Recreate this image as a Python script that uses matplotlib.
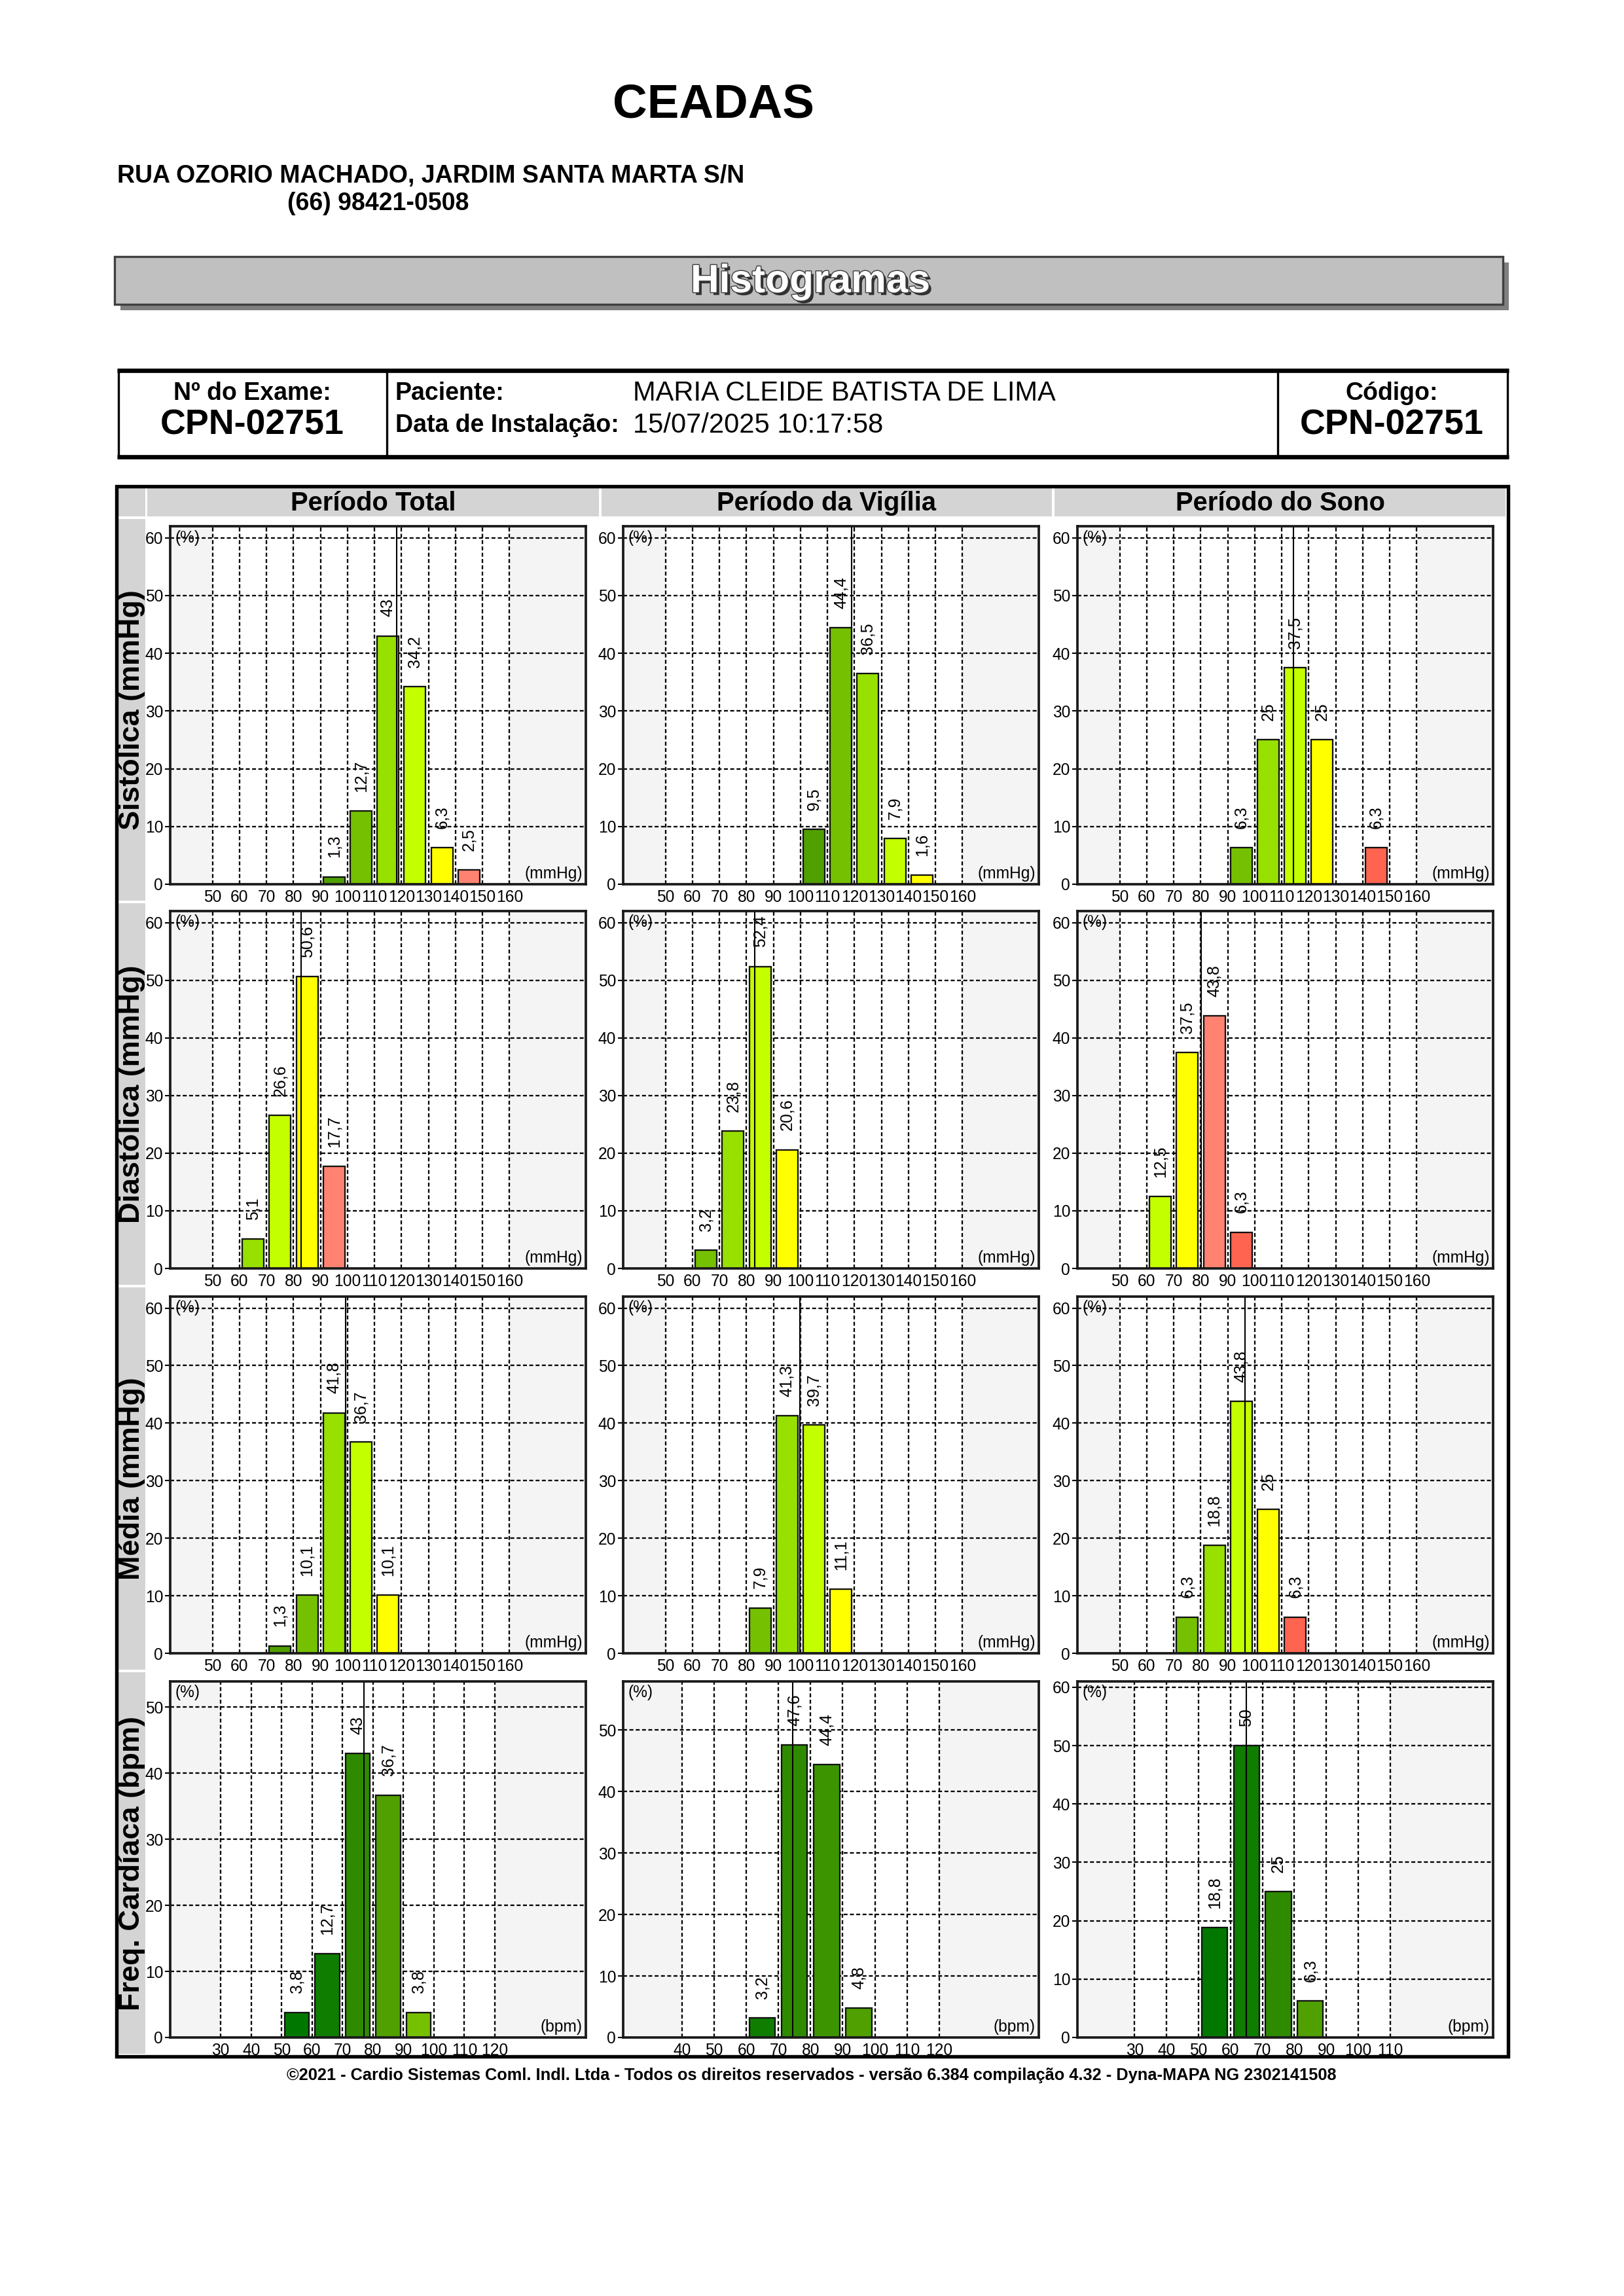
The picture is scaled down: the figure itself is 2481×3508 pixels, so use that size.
import numpy as np
import matplotlib
matplotlib.use('Agg')
import matplotlib.pyplot as plt
import matplotlib.patheffects as pe
from matplotlib.patches import Rectangle

plt.rcParams['font.family'] = ['Liberation Sans', 'DejaVu Sans']

W, H = 2481, 3508

# ---------------- colours ----------------
G0 = '#007800'; G1 = '#0f7d00'; G2 = '#2e8b00'; G3 = '#3c9500'; G4 = '#4fa000'
G5 = '#75c000'; G6 = '#97e000'; G7 = '#c4ff00'; YE = '#ffff00'; SA = '#ff8370'; RE = '#ff6450'

# ---------------- texts ----------------
clinic = "CEADAS"
address = "RUA OZORIO MACHADO, JARDIM SANTA MARTA S/N"
phone = "(66) 98421-0508"
exam_label = "Nº do Exame:"
exam_code = "CPN-02751"
patient_label = "Paciente:"
patient = "MARIA CLEIDE BATISTA DE LIMA"
date_label = "Data de Instalação:"
install_date = "15/07/2025 10:17:58"
code_label = "Código:"
section_title = "Histogramas"
footer = ("©2021 - Cardio Sistemas Coml. Indl. Ltda - Todos os direitos reservados - "
          "versão 6.384 compilação 4.32 - Dyna-MAPA NG 2302141508")
periods = ["Período Total", "Período da Vigília", "Período do Sono"]
measures = ["Sistólica (mmHg)", "Diastólica (mmHg)", "Média (mmHg)", "Freq. Cardíaca (bpm)"]
units = ["(mmHg)", "(mmHg)", "(mmHg)", "(bpm)"]

# ---------------- data ----------------
bp_ticks = [50, 60, 70, 80, 90, 100, 110, 120, 130, 140, 150, 160]
hr_ticks_total = [30, 40, 50, 60, 70, 80, 90, 100, 110, 120]
hr_ticks_vig = [40, 50, 60, 70, 80, 90, 100, 110, 120]
hr_ticks_sono = [30, 40, 50, 60, 70, 80, 90, 100, 110]

sis_total_bins = [90, 100, 110, 120, 130, 140]
sis_total_pct = [1.3, 12.7, 43, 34.2, 6.3, 2.5]
sis_total_col = [G4, G5, G6, G7, YE, SA]
sis_total_mark = 118.1

sis_vig_bins = [100, 110, 120, 130, 140]
sis_vig_pct = [9.5, 44.4, 36.5, 7.9, 1.6]
sis_vig_col = [G4, G5, G6, G7, YE]
sis_vig_mark = 118.9

sis_sono_bins = [90, 100, 110, 120, 140]
sis_sono_pct = [6.3, 25, 37.5, 25, 6.3]
sis_sono_col = [G5, G6, G7, YE, RE]
sis_sono_mark = 114.3

dia_total_bins = [60, 70, 80, 90]
dia_total_pct = [5.1, 26.6, 50.6, 17.7]
dia_total_col = [G6, G7, YE, SA]
dia_total_mark = 82.9

dia_vig_bins = [60, 70, 80, 90]
dia_vig_pct = [3.2, 23.8, 52.4, 20.6]
dia_vig_col = [G5, G6, G7, YE]
dia_vig_mark = 83.0

dia_sono_bins = [60, 70, 80, 90]
dia_sono_pct = [12.5, 37.5, 43.8, 6.3]
dia_sono_col = [G7, YE, SA, RE]
dia_sono_mark = 80.1

med_total_bins = [70, 80, 90, 100, 110]
med_total_pct = [1.3, 10.1, 41.8, 36.7, 10.1]
med_total_col = [G4, G5, G6, G7, YE]
med_total_mark = 99.2

med_vig_bins = [80, 90, 100, 110]
med_vig_pct = [7.9, 41.3, 39.7, 11.1]
med_vig_col = [G5, G6, G7, YE]
med_vig_mark = 99.9

med_sono_bins = [70, 80, 90, 100, 110]
med_sono_pct = [6.3, 18.8, 43.8, 25, 6.3]
med_sono_col = [G5, G6, G7, YE, RE]
med_sono_mark = 96.3

hr_total_bins = [50, 60, 70, 80, 90]
hr_total_pct = [3.8, 12.7, 43, 36.7, 3.8]
hr_total_col = [G0, G1, G2, G4, G5]
hr_total_mark = 77.0

hr_vig_bins = [60, 70, 80, 90]
hr_vig_pct = [3.2, 47.6, 44.4, 4.8]
hr_vig_col = [G1, G2, G3, G4]
hr_vig_mark = 74.5

hr_sono_bins = [50, 60, 70, 80]
hr_sono_pct = [18.8, 50, 25, 6.3]
hr_sono_col = [G0, G1, G2, G4]
hr_sono_mark = 65.0

BIN_W = 10

panels = [
    [(sis_total_bins, sis_total_pct, sis_total_col, sis_total_mark),
     (sis_vig_bins, sis_vig_pct, sis_vig_col, sis_vig_mark),
     (sis_sono_bins, sis_sono_pct, sis_sono_col, sis_sono_mark)],
    [(dia_total_bins, dia_total_pct, dia_total_col, dia_total_mark),
     (dia_vig_bins, dia_vig_pct, dia_vig_col, dia_vig_mark),
     (dia_sono_bins, dia_sono_pct, dia_sono_col, dia_sono_mark)],
    [(med_total_bins, med_total_pct, med_total_col, med_total_mark),
     (med_vig_bins, med_vig_pct, med_vig_col, med_vig_mark),
     (med_sono_bins, med_sono_pct, med_sono_col, med_sono_mark)],
    [(hr_total_bins, hr_total_pct, hr_total_col, hr_total_mark),
     (hr_vig_bins, hr_vig_pct, hr_vig_col, hr_vig_mark),
     (hr_sono_bins, hr_sono_pct, hr_sono_col, hr_sono_mark)],
]

# ---------------- layout (pixels) ----------------
col_x = [(260, 895), (952, 1587), (1646, 2281)]
row_y = [(804, 1351), (1392, 1938), (1981, 2526), (2569, 3113)]
bp_xlim = (34.3, 188.3)
hr_xlims = [(13.4, 149.9), (21.7, 151.0), (12.1, 142.2)]
hr_xticks = [hr_ticks_total, hr_ticks_vig, hr_ticks_sono]
hr_ytop = [53.9, 57.9, 61.0]
hr_yticks = [[0, 10, 20, 30, 40, 50], [0, 10, 20, 30, 40, 50], [0, 10, 20, 30, 40, 50, 60]]
bp_yticks = [0, 10, 20, 30, 40, 50, 60]

fig = plt.figure(figsize=(W / 300, H / 300), dpi=300)
bg = fig.add_axes([0, 0, 1, 1])
bg.set_xlim(0, W)
bg.set_ylim(H, 0)
bg.axis('off')

# ---------------- header ----------------
bg.text(1090, 161, clinic, ha='center', va='center', fontsize=17.5, fontweight='bold')
bg.text(179, 269, address, ha='left', va='center', fontsize=9, fontweight='bold')
bg.text(439, 311, phone, ha='left', va='center', fontsize=9, fontweight='bold')

bg.add_patch(Rectangle((184, 401), 2121, 73, fc='#808080', ec='none', zorder=1))
bg.add_patch(Rectangle((175, 392), 2121, 73, fc='#c0c0c0', ec='#404040', lw=0.8, zorder=2))
bg.text(1238, 431, section_title, ha='center', va='center', fontsize=14.5, fontweight='bold',
        color='white', zorder=3,
        path_effects=[pe.withSimplePatchShadow(offset=(1.0, -1.0), shadow_rgbFace='#303030', alpha=1.0),
                      pe.withStroke(linewidth=0.7, foreground='#404040')])

# ---------------- info box ----------------
ib_t, ib_b, ib_l, ib_r = 566, 698, 179, 2305
bg.plot([ib_l, ib_r], [ib_t, ib_t], color='black', lw=1.6, solid_capstyle='butt')
bg.plot([ib_l, ib_r], [ib_b, ib_b], color='black', lw=1.6, solid_capstyle='butt')
for xv in [ib_l + 2, 591, 1952, ib_r - 2]:
    bg.plot([xv, xv], [ib_t, ib_b], color='black', lw=0.8)
bg.text(385, 601, exam_label, ha='center', va='center', fontsize=9, fontweight='bold')
bg.text(385, 650, exam_code, ha='center', va='center', fontsize=12.9, fontweight='bold')
bg.text(604, 601, patient_label, ha='left', va='center', fontsize=9, fontweight='bold')
bg.text(967, 601, patient, ha='left', va='center', fontsize=10)
bg.text(604, 650, date_label, ha='left', va='center', fontsize=9, fontweight='bold')
bg.text(967, 650, install_date, ha='left', va='center', fontsize=10)
bg.text(2126, 601, code_label, ha='center', va='center', fontsize=9, fontweight='bold')
bg.text(2126, 650, exam_code, ha='center', va='center', fontsize=12.9, fontweight='bold')

# ---------------- main frame ----------------
mb_l, mb_r, mb_t, mb_b = 178, 2304, 743, 3142
HG = '#d4d4d4'
hdr_t, hdr_b = 746, 789
bg.add_patch(Rectangle((mb_l, hdr_t), 44, hdr_b - hdr_t, fc=HG, ec='none'))
hdr_edges = [223, 917, 1609, mb_r - 2]
for i, name in enumerate(periods):
    x0, x1 = hdr_edges[i], hdr_edges[i + 1]
    bg.add_patch(Rectangle((x0 + 2, hdr_t), x1 - x0 - 4, hdr_b - hdr_t, fc=HG, ec='none'))
    bg.text((x0 + x1) / 2, (hdr_t + hdr_b) / 2 + 1, name, ha='center', va='center',
            fontsize=9.6, fontweight='bold')
row_edges = [791, 1378, 1965, 2553, mb_b - 2]
for i, name in enumerate(measures):
    y0, y1 = row_edges[i], row_edges[i + 1]
    bg.add_patch(Rectangle((mb_l, y0 + 2), 44, y1 - y0 - 4, fc=HG, ec='none'))
    bg.text(201, (y0 + y1) / 2, name, ha='center', va='center', rotation=90,
            fontsize=10.8, fontweight='bold')
bg.add_patch(Rectangle((mb_l, mb_t), mb_r - mb_l, mb_b - mb_t, fc='none', ec='black', lw=1.3, zorder=5))

bg.text(1240, 3171, footer, ha='center', va='center', fontsize=6.1, fontweight='bold')


def fmt(v):
    return f"{v:g}".replace('.', ',')


FS = 5.9
VS = 6.0
for r in range(4):
    for c in range(3):
        bins, pct, cols, mark = panels[r][c]
        x0, x1 = col_x[c]
        yt, yb = row_y[r]
        ax = fig.add_axes([x0 / W, 1 - yb / H, (x1 - x0) / W, (yb - yt) / H])
        if r < 3:
            xlim = bp_xlim
            xt = bp_ticks
            ytop = 62.0
            yt_list = bp_yticks
        else:
            xlim = hr_xlims[c]
            xt = hr_xticks[c]
            ytop = hr_ytop[c]
            yt_list = hr_yticks[c]
        ax.set_xlim(*xlim)
        ax.set_ylim(0, ytop)
        ax.set_facecolor('white')
        ax.axvspan(xlim[0], xt[0], color='#f4f4f4', zorder=0.1, lw=0)
        ax.axvspan(xt[-1], xlim[1], color='#f4f4f4', zorder=0.1, lw=0)
        for xv in xt:
            ax.axvline(xv, color='black', lw=0.55, dashes=(2.6, 1.6), zorder=0.5)
        for yv in yt_list[1:]:
            ax.axhline(yv, color='black', lw=0.55, dashes=(2.6, 1.6), zorder=0.5)
        lefts = np.array(bins, dtype=float) + 0.1 * BIN_W
        ax.bar(lefts, pct, width=0.8 * BIN_W, align='edge', color=cols,
               edgecolor='#111111', linewidth=0.55, zorder=2)
        for b, v in zip(bins, pct):
            ax.annotate(fmt(v), (b + BIN_W / 2, v), xytext=(0, 7), textcoords='offset points',
                        rotation=90, ha='center', va='bottom', fontsize=VS)
        ax.axvline(mark, color='black', lw=0.5, zorder=3)
        ax.set_xticks(xt)
        ax.set_xticklabels([str(t) for t in xt])
        ax.set_yticks(yt_list)
        ax.set_yticklabels([str(t) for t in yt_list])
        ax.tick_params(axis='x', length=0, pad=2.0, labelsize=FS)
        ax.tick_params(axis='y', length=2.0, width=0.5, pad=0.6, labelsize=FS, direction='out')
        for s in ax.spines.values():
            s.set_linewidth(0.9)
            s.set_color('#1a1a1a')
            s.set_zorder(4)
        ax.text(0.012, 0.968, '(%)', transform=ax.transAxes, ha='left', va='center', fontsize=FS)
        ax.text(0.992, 0.008, units[r], transform=ax.transAxes, ha='right', va='bottom', fontsize=FS)

fig.savefig('out.png', dpi=300)
